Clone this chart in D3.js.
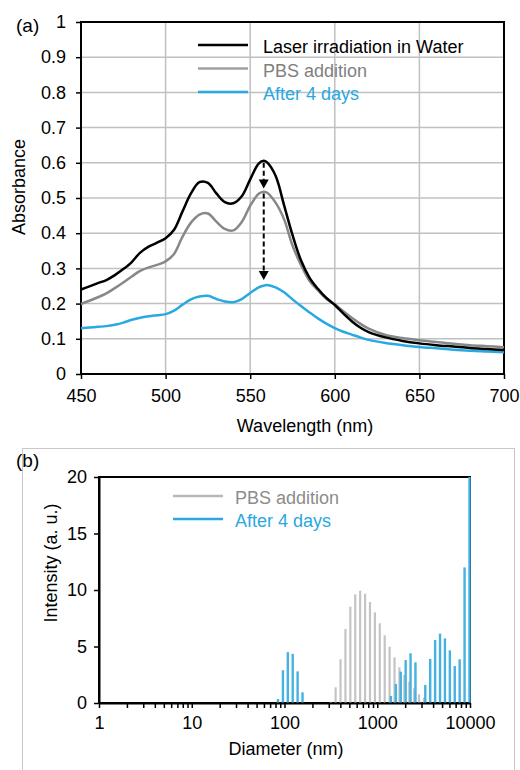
<!DOCTYPE html>
<html>
<head>
<meta charset="utf-8">
<script src="https://cdn.jsdelivr.net/npm/d3@7"></script>
<style>
  body { margin: 0; background: #fff; }
  svg { display: block; }
  text { font-family: "Liberation Sans", Arial, sans-serif; }
</style>
</head>
<body>
<div id="chart"></div>
<script>
// ---------- panel (a): absorbance spectra ----------
var wavelength = [450,455,460,465,470,475,480,485,490,495,500,505,510,515,520,525,530,535,540,545,550,555,558,
                  560,565,570,575,580,585,590,595,600,605,610,615,620,630,640,650,660,670,680,690,700];
var laserWater = [.240,.249,.258,.267,.281,.298,.318,.345,.362,.373,.386,.410,.462,.513,.545,.543,.513,.488,.485,.505,.553,.598,.606,
                  .601,.563,.480,.395,.323,.274,.242,.216,.196,.172,.150,.132,.119,.104,.094,.087,.082,.078,.074,.071,.068];
var pbsAddition = [.199,.208,.218,.229,.244,.260,.277,.293,.303,.310,.320,.341,.390,.430,.453,.456,.433,.412,.408,.432,.478,.512,.518,
                   .515,.487,.440,.365,.310,.265,.238,.214,.198,.178,.160,.143,.129,.111,.102,.096,.091,.086,.082,.079,.076];
var after4Days = [.130,.132,.134,.136,.140,.146,.154,.160,.164,.167,.170,.180,.197,.212,.220,.222,.213,.206,.204,.213,.230,.246,.251,
                  .253,.246,.232,.212,.193,.175,.158,.143,.130,.120,.112,.104,.097,.088,.082,.077,.073,.069,.066,.064,.062];
var absTicks = [0,0.1,0.2,0.3,0.4,0.5,0.6,0.7,0.8,0.9,1];
var wlTicks = [450,500,550,600,650,700];
var legendA = ["Laser irradiation in Water","PBS addition","After 4 days"];
// dashed arrows: wavelength, start absorbance, tip absorbance
var arrowWl = [558, 558];
var arrowFrom = [0.600, 0.513];
var arrowTo = [0.527, 0.267];

// ---------- panel (b): DLS size distribution ----------
var diameter = [83.0,93.8,105.9,119.6,135.1,152.6,
                317.2,358.3,404.8,457.2,516.5,583.4,659.0,744.5,841.0,950.0,1073,1212,1369,1547,1748,1974,2230,2519,2846,3215,
                3632,4103,4634,5236,5914,6681,7547,8526,9630];
var pbsIntensity = [0,0,0,0,0,0,
                    0.1,1.39,3.87,6.55,8.52,9.62,9.94,9.67,8.94,8.02,7.05,5.99,4.98,4.04,3.16,2.48,1.89,1.3,0.77,0.47,
                    0,0,0,0,0,0,0,0,0];
var after4Intensity = [0.35,2.9,4.5,4.35,2.8,0.95,
                       0,0,0,0,0,0,0,0,0,0,0,0,0.62,1.68,2.77,3.8,4.4,3.6,0.1,1.6,
                       3.9,5.57,6.14,5.72,4.66,3.27,3.87,12.0,20];
var intTicks = [0,5,10,15,20];
var diamTicks = [1,10,100,1000,10000];
var legendB = ["PBS addition","After 4 days"];

var BLUE = "#29a9e1";
var FS = 18;

var svg = d3.select("#chart").append("svg")
    .attr("width", 520)
    .attr("height", 770);

// ================= (a) =================
var ga = svg.append("g");
var xa = d3.scaleLinear().domain([450,700]).range([81,504]);
var ya = d3.scaleLinear().domain([0,1]).range([374,22]);

// gridlines
ga.selectAll(".vgrid").data(wlTicks.slice(1,-1)).join("line")
    .attr("x1", d => xa(d)).attr("x2", d => xa(d))
    .attr("y1", ya(0)).attr("y2", ya(1))
    .attr("stroke", "#c0c0c0").attr("stroke-width", 1.5);
ga.selectAll(".hgrid").data(absTicks.slice(1,-1)).join("line")
    .attr("x1", xa(450)).attr("x2", xa(700))
    .attr("y1", d => ya(d)).attr("y2", d => ya(d))
    .attr("stroke", "#c0c0c0").attr("stroke-width", 1.5);

// axes
var axLa = ga.append("g").attr("transform", "translate(" + xa(450) + ",0)")
    .call(d3.axisLeft(ya).tickValues(absTicks).tickFormat(d3.format("~g"))
        .tickSize(5).tickSizeOuter(0).tickPadding(10));
var axBa = ga.append("g").attr("transform", "translate(0," + ya(0) + ")")
    .call(d3.axisBottom(xa).tickValues(wlTicks).tickSize(5).tickSizeOuter(0).tickPadding(10));
[axLa, axBa].forEach(function(a) {
  a.select(".domain").remove();
  a.selectAll("line").attr("stroke", "#000").attr("stroke-width", 1.5);
  a.selectAll("text").attr("font-size", FS).attr("fill", "#000")
      .style("font-family", '"Liberation Sans", Arial, sans-serif');
});

// frame
ga.append("rect")
    .attr("x", xa(450)).attr("y", ya(1))
    .attr("width", xa(700) - xa(450)).attr("height", ya(0) - ya(1))
    .attr("fill", "none").attr("stroke", "#000").attr("stroke-width", 2);

// curves
var seriesA = [
  {vals: after4Days, color: BLUE},
  {vals: pbsAddition, color: "#888888"},
  {vals: laserWater, color: "#000000"}
];
var lineA = d3.line().curve(d3.curveCatmullRom.alpha(0.5))
    .x((d, i) => xa(wavelength[i])).y(d => ya(d));
ga.selectAll(".curve").data(seriesA).join("path")
    .attr("d", d => lineA(d.vals))
    .attr("fill", "none").attr("stroke", d => d.color)
    .attr("stroke-width", 2.5).attr("stroke-linejoin", "round");

// arrows
arrowWl.forEach(function(w, i) {
  var x = xa(w), y0 = ya(arrowFrom[i]), yt = ya(arrowTo[i]);
  ga.append("line")
      .attr("x1", x).attr("x2", x).attr("y1", y0).attr("y2", yt - 8)
      .attr("stroke", "#000").attr("stroke-width", 2).attr("stroke-dasharray", "5,3");
  ga.append("path")
      .attr("d", "M" + (x - 5) + "," + (yt - 9) + "L" + (x + 5) + "," + (yt - 9) + "L" + x + "," + yt + "Z")
      .attr("fill", "#000");
});

// legend
var legColA = ["#000000", "#a0a0a0", BLUE];
var legTxtA = ["#000000", "#7f7f7f", BLUE];
var legYA = [45, 68.5, 92];
legendA.forEach(function(t, i) {
  ga.append("line").attr("x1", 198).attr("x2", 248).attr("y1", legYA[i]).attr("y2", legYA[i])
      .attr("stroke", legColA[i]).attr("stroke-width", 2.5);
  ga.append("text").attr("x", 263).attr("y", legYA[i] + 8)
      .attr("font-size", FS).attr("fill", legTxtA[i]).text(t);
});

// titles
ga.append("text").attr("x", 16).attr("y", 32).attr("font-size", 19).text("(a)");
ga.append("text").attr("transform", "translate(19,187) rotate(-90)")
    .attr("text-anchor", "middle").attr("dy", "0.35em").attr("font-size", FS).text("Absorbance");
ga.append("text").attr("x", 305).attr("y", 432)
    .attr("text-anchor", "middle").attr("font-size", FS).text("Wavelength (nm)");

// ================= (b) =================
var gb = svg.append("g");
gb.append("rect").attr("x", 22.5).attr("y", 448.5).attr("width", 492).attr("height", 330)
    .attr("fill", "none").attr("stroke", "#c8c8c8").attr("stroke-width", 1);

var xb = d3.scaleLog().domain([1,10000]).range([99,470]);
var yb = d3.scaleLinear().domain([0,20]).range([703,477]);

// frame first so the last bar sits on top of it
gb.append("rect")
    .attr("x", xb(1)).attr("y", yb(20))
    .attr("width", xb(10000) - xb(1)).attr("height", yb(0) - yb(20))
    .attr("fill", "none").attr("stroke", "#000").attr("stroke-width", 2);

var bins = diameter.map((d, i) => ({d: d, pbs: pbsIntensity[i], a4: after4Intensity[i]}));
gb.selectAll(".barP").data(bins.filter(b => b.pbs > 0)).join("rect")
    .attr("x", b => xb(b.d) - 1.4).attr("width", 2.2)
    .attr("y", b => yb(b.pbs)).attr("height", b => yb(0) - yb(b.pbs))
    .attr("fill", "#c4c4c4");
gb.selectAll(".barA").data(bins.filter(b => b.a4 > 0)).join("rect")
    .attr("x", b => xb(b.d) - 0.2).attr("width", 2.4)
    .attr("y", b => yb(b.a4)).attr("height", b => yb(0) - yb(b.a4))
    .attr("fill", "#45b2e2");

var axLb = gb.append("g").attr("transform", "translate(" + xb(1) + ",0)")
    .call(d3.axisLeft(yb).tickValues(intTicks).tickSize(5).tickSizeOuter(0).tickPadding(7));
var axBb = gb.append("g").attr("transform", "translate(0," + yb(0) + ")")
    .call(d3.axisBottom(xb).tickValues(xb.ticks())
        .tickFormat(d => diamTicks.indexOf(d) >= 0 ? d : "")
        .tickSize(5).tickSizeOuter(0).tickPadding(8));
[axLb, axBb].forEach(function(a) {
  a.select(".domain").attr("stroke", "#000").attr("stroke-width", 2);
  a.selectAll(".tick line").attr("stroke", "#000").attr("stroke-width", 1.5);
  a.selectAll("text").attr("font-size", FS).attr("fill", "#000")
      .style("font-family", '"Liberation Sans", Arial, sans-serif');
});

var legColB = ["#b8b8b8", BLUE];
var legTxtB = ["#8c8c8c", BLUE];
var legYB = [496, 519];
legendB.forEach(function(t, i) {
  gb.append("line").attr("x1", 173).attr("x2", 223).attr("y1", legYB[i]).attr("y2", legYB[i])
      .attr("stroke", legColB[i]).attr("stroke-width", 2.5);
  gb.append("text").attr("x", 235).attr("y", legYB[i] + 8)
      .attr("font-size", FS).attr("fill", legTxtB[i]).text(t);
});

gb.append("text").attr("x", 16).attr("y", 467).attr("font-size", 19).text("(b)");
gb.append("text").attr("transform", "translate(51,563) rotate(-90)")
    .attr("text-anchor", "middle").attr("dy", "0.35em").attr("font-size", FS).text("Intensity (a. u.)");
gb.append("text").attr("x", 286).attr("y", 755)
    .attr("text-anchor", "middle").attr("font-size", FS).text("Diameter (nm)");
</script>
</body>
</html>
